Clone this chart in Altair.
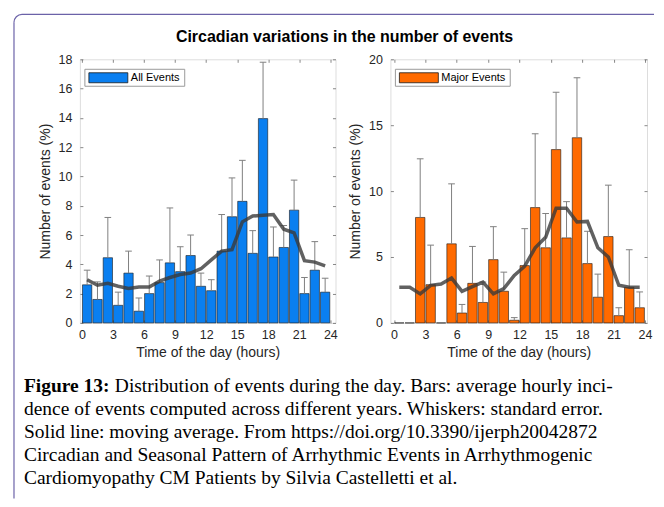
import altair as alt
import pandas as pd

hours = list(range(1, 25))
x_ticks = [0, 3, 6, 9, 12, 15, 18, 21, 24]

all_mean = [2.6, 1.6, 4.45, 1.2, 3.4, 0.8, 2.0, 2.75, 4.1, 3.5, 4.6, 2.5,
            2.2, 4.9, 7.25, 8.3, 4.75, 13.95, 4.5, 5.15, 7.7, 2.0, 3.6, 2.1]
all_err = [3.6, 2.8, 7.2, 2.1, 4.9, 1.7, 3.2, 4.3, 7.85, 5.2, 6.0, 3.4,
           2.95, 7.4, 9.9, 11.1, 6.3, 17.8, 6.55, 6.65, 9.75, 3.1, 5.55, 3.05]
all_ma = [2.95, 2.57, 2.7, 2.5, 2.35, 2.45, 2.45, 2.85, 3.1, 3.3, 3.4, 3.7,
          4.3, 4.9, 5.0, 6.9, 7.3, 7.35, 7.4, 6.4, 6.15, 4.25, 4.15, 3.9]

major_mean = [0, 0, 8.0, 2.9, 0, 6.0, 0.75, 3.0, 1.55, 4.8, 2.4, 0.2,
              4.35, 8.75, 5.7, 13.15, 6.45, 14.05, 4.5, 1.95, 6.55, 0.55, 2.7, 1.15]
major_err = [0, 0, 12.45, 5.9, 0, 10.55, 1.4, 5.8, 3.1, 7.3, 3.85, 0.4,
             7.15, 14.35, 8.3, 17.5, 9.2, 18.6, 6.95, 3.7, 10.45, 1.15, 5.55, 2.35]
major_ma = [2.7, 2.7, 2.2, 2.85, 2.95, 3.4, 2.4, 2.75, 3.1, 2.2, 2.6, 3.6,
            4.3, 5.7, 6.5, 8.7, 8.7, 7.65, 7.7, 5.7, 5.0, 2.85, 2.7, 2.7]

title_text = "Circadian variations in the number of events"
caption_bold = "Figure 13:"
caption_lines = [
    "Distribution of events during the day. Bars: average hourly inci-",
    "dence of events computed across different years. Whiskers: standard error.",
    "Solid line: moving average. From  https://doi.org/10.3390/ijerph20042872",
    "Circadian and Seasonal Pattern of Arrhythmic Events in Arrhythmogenic",
    "Cardiomyopathy CM Patients  by Silvia Castelletti et al.",
]

FONT = "Liberation Sans"
SERIF = "Liberation Serif"
AX = "#262626"
TICK = "#6a6a6a"
FRAME = "#6b62a8"


def panel(mean, err, ma, name, color, ymax, ystep, xdomain, legend_w, extra=()):
    df = pd.DataFrame({"hour": hours, "mean": mean, "err": err, "ma": ma})
    base = alt.Chart(df).transform_calculate(
        x0="datum.hour - 0.95", x1="datum.hour - 0.05", xc="datum.hour - 0.5",
        c0="datum.hour - 0.82", c1="datum.hour - 0.18")
    yvals = list(range(0, ymax + 1, ystep))
    xs = alt.Scale(domain=xdomain, nice=False, zero=False)
    ys = alt.Scale(domain=[0, ymax], nice=False)
    common = dict(grid=False, domain=False, ticks=True, tickSize=3, offset=-3,
                  tickColor=TICK, tickWidth=0.8, labelOverlap=False,
                  labelFont=FONT, titleFont=FONT, labelFontSize=12.5,
                  titleFontSize=14, titleFontWeight="normal",
                  labelColor=AX, titleColor=AX)
    xaxis = alt.Axis(values=x_ticks, title="Time of the day (hours)",
                     labelPadding=6, titlePadding=4, **common)
    yaxis = alt.Axis(values=yvals, title="Number of events (%)",
                     labelPadding=8, titlePadding=6, **common)
    tick_only = dict(grid=False, domain=False, ticks=True, tickSize=3, offset=-3,
                     tickColor=TICK, tickWidth=0.8, labels=False, title=None)
    xaxis_top = alt.Axis(values=x_ticks, orient="top", **tick_only)
    yaxis_right = alt.Axis(values=yvals, orient="right", **tick_only)

    bars = base.mark_bar(color=color, stroke="#1a1a1a", strokeWidth=0.6).encode(
        x=alt.X("x0:Q", scale=xs, axis=xaxis), x2="x1:Q",
        y=alt.Y("mean:Q", scale=ys, axis=yaxis), y2=alt.datum(0))
    whisk = base.mark_rule(color="#808080", strokeWidth=1).encode(
        x=alt.X("xc:Q", scale=xs, axis=xaxis),
        y=alt.Y("mean:Q", scale=ys, axis=yaxis), y2="err:Q")
    caps = base.mark_rule(color="#808080", strokeWidth=1).encode(
        x=alt.X("c0:Q", scale=xs, axis=xaxis), x2="c1:Q",
        y=alt.Y("err:Q", scale=ys, axis=yaxis))
    line = base.mark_line(color="#3a3a3a", opacity=0.8, strokeWidth=3.5).encode(
        x=alt.X("xc:Q", scale=xs, axis=xaxis),
        y=alt.Y("ma:Q", scale=ys, axis=yaxis))
    ldf = pd.DataFrame({"name": [name]})
    lbox = alt.Chart(ldf).mark_rect(fill="white", stroke="#9a9a9a", strokeWidth=1).encode(
        x=alt.value(5), x2=alt.value(5 + legend_w), y=alt.value(10), y2=alt.value(27))
    lsw = alt.Chart(ldf).mark_rect(fill=color, stroke="#1a1a1a", strokeWidth=0.8).encode(
        x=alt.value(9), x2=alt.value(48), y=alt.value(13.5), y2=alt.value(23.5))
    ltx = alt.Chart(ldf).mark_text(align="left", baseline="middle", font=FONT,
                                   fontSize=11, color="black").encode(
        x=alt.value(51), y=alt.value(19), text="name:N")
    main = alt.layer(bars, whisk, caps, line, lbox, lsw, ltx, *extra)
    helper = base.mark_point(opacity=0).encode(
        x=alt.X("xc:Q", scale=xs, axis=xaxis_top),
        y=alt.Y("ma:Q", scale=ys, axis=yaxis_right))
    return alt.layer(main, helper).resolve_scale(x="independent", y="independent")


# decorations: title, caption, frame (drawn relative to left plot area)
tdf = pd.DataFrame({"t": [title_text]})
title_mark = alt.Chart(tdf).mark_text(align="center", baseline="alphabetic", font=FONT,
                                      fontSize=16, fontWeight="bold", color="black").encode(
    x=alt.value(265), y=alt.value(-17), text="t:N")

CAP_FS = 19.5
cb = alt.Chart(pd.DataFrame({"t": [caption_bold]})).mark_text(
    align="left", baseline="alphabetic", font=SERIF, fontSize=CAP_FS, fontWeight="bold",
    color="black").encode(x=alt.value(-56), y=alt.value(333), text="t:N")
cap_marks = [cb]
for i, ln in enumerate(caption_lines):
    xv = 35 if i == 0 else -56
    cap_marks.append(alt.Chart(pd.DataFrame({"t": [ln]})).mark_text(
        align="left", baseline="alphabetic", font=SERIF, fontSize=CAP_FS,
        color="black").encode(x=alt.value(xv), y=alt.value(333 + 23 * i), text="t:N"))

fdf = pd.DataFrame({"k": [1]})
frame_left = alt.Chart(fdf).mark_rule(color=FRAME, strokeWidth=1.2).encode(
    x=alt.value(-66), y=alt.value(-37), y2=alt.value(440))
frame_top = alt.Chart(fdf).mark_rule(color=FRAME, strokeWidth=1.2).encode(
    x=alt.value(-58), x2=alt.value(575), y=alt.value(-45))
frame_arc = alt.Chart(fdf).mark_arc(color=FRAME).encode(
    x=alt.value(-58), y=alt.value(-37), theta=alt.value(4.7124), theta2=alt.value(6.2832),
    radius=alt.value(8.6), radius2=alt.value(7.4))

left = panel(all_mean, all_err, all_ma, "All Events", "#0a7ff0", 18, 2,
             [-0.2, 24.5], 100,
             extra=(title_mark, *cap_marks, frame_left, frame_top, frame_arc)
             ).properties(width=256, height=264)
right = panel(major_mean, major_err, major_ma, "Major Events", "#ff6a00", 20, 5,
              [-0.35, 24.2], 115).properties(width=257, height=264)

chart = alt.hconcat(left, right, spacing=55, bounds="flush").properties(
    padding={"left": 4, "top": 4, "right": 0, "bottom": 0}
).configure_view(stroke="#8a8a8a", strokeWidth=1).configure(background="white")

chart.save("out.html", embed_options={"renderer": "svg", "actions": False})
